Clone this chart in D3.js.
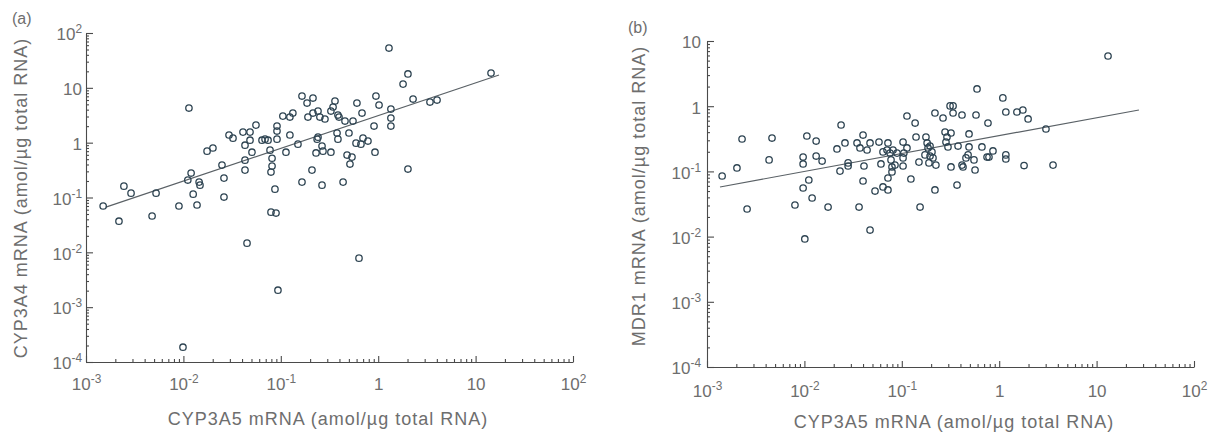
<!DOCTYPE html>
<html><head><meta charset="utf-8">
<script src="https://cdn.jsdelivr.net/npm/d3@7"></script>
<style>
body{margin:0;background:#fff}
svg{display:block}
text{font-family:"Liberation Sans",Arial,Helvetica,sans-serif;fill:#6e6e6e}
</style>
</head><body>
<svg id="chart" width="1219" height="435"></svg>
<script>
// ---- tick exponents ----
const xTickExps = [-3, -2, -1, 0, 1, 2];
const yTickExpsA = [-4, -3, -2, -1, 0, 1, 2];
const yTickExpsB = [-4, -3, -2, -1, 0, 1];

// ---- panel (a): CYP3A5 vs CYP3A4 ----
const cyp3a5A = [0.0015,0.00218,0.00245,0.0029,0.00477,0.00524,0.009,0.0099,0.0114,0.0111,0.012,0.0126,0.0138,0.0145,0.0148,0.0175,0.0201,0.0249,0.0261,0.0261,0.0294,0.0323,0.0409,0.0429,0.0429,0.0429,0.045,0.0483,0.0483,0.0506,0.0556,0.0641,0.0689,0.074,0.0775,0.0793,0.0893,0.0813,0.0813,0.0793,0.0871,0.0914,0.0914,0.0914,0.0935,0.105,0.113,0.124,0.124,0.133,0.15,0.165,0.186,0.214,0.165,0.19,0.214,0.241,0.252,0.284,0.209,0.236,0.241,0.265,0.23,0.271,0.265,0.327,0.344,0.36,0.327,0.386,0.396,0.456,0.378,0.386,0.436,0.479,0.538,0.513,0.501,0.551,0.605,0.682,0.592,0.665,0.698,0.785,0.635,0.906,0.948,1.02,0.927,1.29,1.35,1.35,1.35,1.8,2.02,2.02,2.28,3.4,4.02,14.4];
const cyp3a4 = [0.07,0.037,0.161,0.12,0.046,0.12,0.07,0.000186,4.28,0.208,0.279,0.115,0.073,0.191,0.168,0.70,0.80,0.39,0.226,0.102,1.38,1.21,1.56,0.90,0.48,0.316,0.0147,1.56,1.11,0.67,2.09,1.11,1.16,1.11,0.73,0.054,0.052,0.52,0.374,0.291,0.142,2.01,1.63,1.16,0.00204,3.05,0.67,1.38,2.93,3.47,0.94,7.08,5.28,6.51,0.191,2.93,3.47,3.77,2.93,2.70,0.316,1.16,1.26,0.87,0.65,0.70,0.168,0.67,4.47,5.74,3.77,3.19,2.93,2.48,1.50,1.16,0.191,0.594,0.546,0.407,1.50,2.48,5.28,3.47,0.98,0.94,1.21,1.07,0.00783,2.01,7.08,4.85,0.67,53.2,4.10,2.81,2.01,11.7,17.9,0.33,6.25,5.51,5.99,18.6];
const fitA = { slope: 0.597, intercept: 0.494, from: 0.0016, to: 17.4 };

// ---- panel (b): CYP3A5 vs MDR1 ----
const cyp3a5B = [0.00143,0.00203,0.00229,0.00258,0.00434,0.00465,0.008,0.0097,0.0097,0.0097,0.0101,0.0106,0.0111,0.012,0.0132,0.0132,0.0152,0.0175,0.0216,0.0238,0.0232,0.0261,0.0281,0.0281,0.0347,0.0364,0.0372,0.04,0.04,0.0409,0.044,0.0472,0.0472,0.0531,0.0583,0.0611,0.0641,0.0641,0.0705,0.0721,0.0721,0.0721,0.0757,0.0775,0.0793,0.0793,0.0813,0.0851,0.0893,0.103,0.103,0.103,0.105,0.113,0.113,0.124,0.137,0.14,0.15,0.154,0.173,0.177,0.182,0.186,0.19,0.195,0.195,0.204,0.209,0.219,0.219,0.224,0.265,0.278,0.284,0.291,0.298,0.313,0.32,0.32,0.336,0.336,0.369,0.378,0.415,0.415,0.425,0.456,0.479,0.49,0.49,0.551,0.565,0.578,0.592,0.665,0.75,0.767,0.785,0.863,1.09,1.17,1.17,1.17,1.52,1.75,1.80,1.98,3.02,3.57,13.1];
const mdr1 = [0.085,0.113,0.314,0.0265,0.15,0.325,0.0305,0.166,0.13,0.0556,0.0092,0.349,0.0738,0.0391,0.292,0.172,0.144,0.0284,0.221,0.515,0.101,0.273,0.135,0.121,0.273,0.0284,0.229,0.361,0.0713,0.121,0.213,0.273,0.0126,0.05,0.282,0.13,0.0577,0.199,0.213,0.273,0.0792,0.0519,0.191,0.15,0.117,0.098,0.213,0.125,0.191,0.282,0.161,0.121,0.191,0.708,0.229,0.0764,0.552,0.337,0.139,0.0284,0.179,0.337,0.273,0.229,0.135,0.245,0.172,0.199,0.161,0.787,0.0519,0.125,0.659,0.402,0.282,0.337,0.237,1.01,0.388,0.117,1.01,0.787,0.0618,0.245,0.733,0.125,0.117,0.161,0.179,0.375,0.237,0.15,0.105,0.733,1.84,0.237,0.166,0.552,0.166,0.206,1.34,0.815,0.179,0.155,0.815,0.875,0.123,0.637,0.447,0.125,5.89];
const fitB = { slope: 0.2745, intercept: -0.452, from: 0.00136, to: 27.2 };

const xTitle = "CYP3A5 mRNA (amol/\u00b5g total RNA)";
const yTitleA = "CYP3A4 mRNA (amol/\u00b5g total RNA)";
const yTitleB = "MDR1 mRNA (amol/\u00b5g total RNA)";

const svg = d3.select("#chart");

function minorTicks(exps) {
  const out = [];
  for (let i = 0; i < exps.length - 1; i++)
    for (let k = 2; k <= 9; k++) out.push(k * Math.pow(10, exps[i]));
  return out;
}

function labelTick(sel, fs) {
  sel.each(function (d) {
    const e = Math.round(Math.log10(d));
    const t = d3.select(this);
    t.text(null);
    if (e === 0) t.append("tspan").text("1");
    else if (e === 1) t.append("tspan").text("10");
    else {
      t.append("tspan").text("10");
      t.append("tspan").attr("font-size", fs * 0.7).attr("dy", -fs * 0.42).text(String(e));
    }
  });
}

function drawPanel(cfg) {
  const x = d3.scaleLog().domain([1e-3, 1e2]).range(cfg.xr);
  const y = d3.scaleLog().domain(cfg.yd).range(cfg.yr);
  const g = svg.append("g");
  const fs = 17;
  const axisColor = "#4a4a4a";

  // minor x ticks
  const gxm = g.append("g").attr("transform", `translate(0,${cfg.yr[0]})`)
    .call(d3.axisBottom(x).tickValues(minorTicks(xTickExps)).tickSizeInner(-3).tickSizeOuter(0).tickFormat(""));
  gxm.select(".domain").remove();
  // major x ticks
  const gx = g.append("g").attr("transform", `translate(0,${cfg.yr[0]})`)
    .call(d3.axisBottom(x).tickValues(xTickExps.map(e => Math.pow(10, e))).tickSizeInner(-6).tickSizeOuter(0).tickPadding(cfg.xPad));
  gx.selectAll(".tick text").attr("font-size", fs).call(labelTick, fs);

  // minor y ticks
  const yExps = cfg.yExps;
  const gym = g.append("g").attr("transform", `translate(${cfg.xr[0]},0)`)
    .call(d3.axisLeft(y).tickValues(minorTicks(yExps)).tickSizeInner(-3).tickSizeOuter(0).tickFormat(""));
  gym.select(".domain").remove();
  const gy = g.append("g").attr("transform", `translate(${cfg.xr[0]},0)`)
    .call(d3.axisLeft(y).tickValues(yExps.map(e => Math.pow(10, e))).tickSizeInner(-7).tickSizeOuter(0).tickPadding(cfg.yPad));
  gy.selectAll(".tick text").attr("font-size", fs).attr("dy", "0.4em").call(labelTick, fs);

  g.selectAll(".domain, .tick line").attr("stroke", axisColor).attr("stroke-width", 1.1);
  g.selectAll(".tick text").attr("fill", "#6e6e6e").attr("font-family", '"Liberation Sans",Arial,sans-serif');

  // regression line
  const fit = cfg.fit;
  const lineData = [fit.from, fit.to].map(v => [v, Math.pow(10, fit.intercept + fit.slope * Math.log10(v))]);
  g.append("path").datum(lineData)
    .attr("d", d3.line().x(d => x(d[0])).y(d => y(d[1])))
    .attr("fill", "none").attr("stroke", "#5a6166").attr("stroke-width", 1.2);

  // points
  g.append("g").selectAll("circle").data(cfg.xs.map((v, i) => [v, cfg.ys[i]]))
    .join("circle")
    .attr("cx", d => x(d[0])).attr("cy", d => y(d[1])).attr("r", 3.2)
    .attr("fill", "none").attr("stroke", "#2e4452").attr("stroke-width", 1.3);

  // titles
  g.append("text").attr("x", cfg.xTitlePos[0]).attr("y", cfg.xTitlePos[1])
    .attr("text-anchor", "middle").attr("font-size", 18).attr("letter-spacing", 1)
    .text(xTitle);
  g.append("text").attr("transform", `translate(${cfg.yTitlePos[0]},${cfg.yTitlePos[1]}) rotate(-90)`)
    .attr("text-anchor", "middle").attr("font-size", 18).attr("letter-spacing", 1)
    .text(cfg.yTitle);
  g.append("text").attr("x", cfg.tag[0]).attr("y", cfg.tag[1]).attr("font-size", 16).text(cfg.tagText);
}

drawPanel({
  xr: [86, 573], yd: [1e-4, 1e2], yr: [362, 33], yExps: yTickExpsA,
  xs: cyp3a5A, ys: cyp3a4, fit: fitA, xPad: 16, yPad: 4,
  xTitlePos: [328, 425], yTitlePos: [27, 198], yTitle: yTitleA,
  tag: [12, 24], tagText: "(a)"
});
drawPanel({
  xr: [707, 1194], yd: [1e-4, 1e1], yr: [367, 41], yExps: yTickExpsB,
  xs: cyp3a5B, ys: mdr1, fit: fitB, xPad: 18, yPad: 6,
  xTitlePos: [954, 428], yTitlePos: [645, 196], yTitle: yTitleB,
  tag: [628, 33], tagText: "(b)"
});
</script>
</body></html>
